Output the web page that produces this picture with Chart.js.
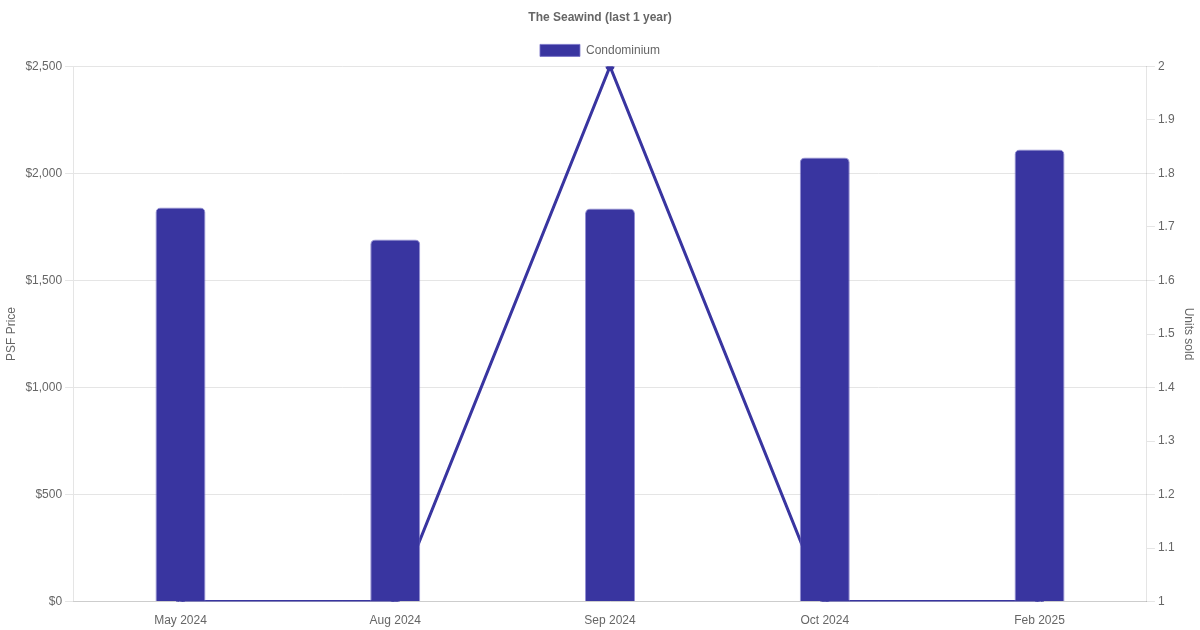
<!DOCTYPE html>
<html>
<head>
<meta charset="utf-8">
<script src="https://cdn.jsdelivr.net/npm/chart.js@4"></script>
<style>
  html, body { margin: 0; padding: 0; background: #fff; }
  #wrap { width: 1200px; height: 630px; }
</style>
</head>
<body>
<div id="wrap"><canvas id="chart"></canvas></div>
<script>
// Chart data
const months = ['May 2024', 'Aug 2024', 'Sep 2024', 'Oct 2024', 'Feb 2025'];
const psfPrice = [1841, 1692, 1836, 2075, 2112];
const unitsSold = [1, 1, 2, 1, 1];

const color = 'rgb(57, 53, 160)';

Chart.defaults.font.family = '"Liberation Sans", Arial, sans-serif';
Chart.defaults.font.size = 12;
Chart.defaults.color = '#666';

const ctx = document.getElementById('chart').getContext('2d');

new Chart(ctx, {
  type: 'bar',
  data: {
    labels: months,
    datasets: [
      {
        type: 'line',
        label: 'Units',
        data: unitsSold,
        yAxisID: 'y1',
        borderColor: color,
        backgroundColor: color,
        borderWidth: 3,
        pointRadius: 3,
        tension: 0,
        order: 2
      },
      {
        label: 'Condominium',
        data: psfPrice,
        yAxisID: 'y',
        backgroundColor: color,
        borderColor: 'rgba(120, 115, 200, 0.8)',
        borderWidth: 1,
        borderRadius: 5,
        borderSkipped: 'bottom',
        maxBarThickness: 50,
        order: 1
      }
    ]
  },
  options: {
    responsive: true,
    maintainAspectRatio: false,
    animation: false,
    layout: { padding: { left: 0, right: 0, top: 0, bottom: -2 } },
    plugins: {
      title: {
        display: true,
        text: 'The Seawind (last 1 year)',
        font: { size: 12, weight: 'bold' },
        padding: { top: 10, bottom: 10 }
      },
      legend: {
        labels: {
          boxWidth: 40,
          boxHeight: 12,
          filter: (item) => item.text === 'Condominium'
        }
      }
    },
    scales: {
      x: {
        grid: { display: false },
        ticks: { padding: 4 }
      },
      y: {
        position: 'left',
        min: 0,
        max: 2500,
        ticks: {
          stepSize: 500,
          callback: (v) => '$' + v.toLocaleString('en-US')
        },
        title: { display: true, text: 'PSF Price' },
        grid: { color: '#e5e5e5' }
      },
      y1: {
        position: 'right',
        min: 1,
        max: 2,
        ticks: {
          stepSize: 0.1,
          callback: (v) => String(Math.round(v * 10) / 10)
        },
        title: { display: true, text: 'Units sold' },
        grid: { drawOnChartArea: false, color: '#e5e5e5' }
      }
    }
  }
});
</script>
</body>
</html>
